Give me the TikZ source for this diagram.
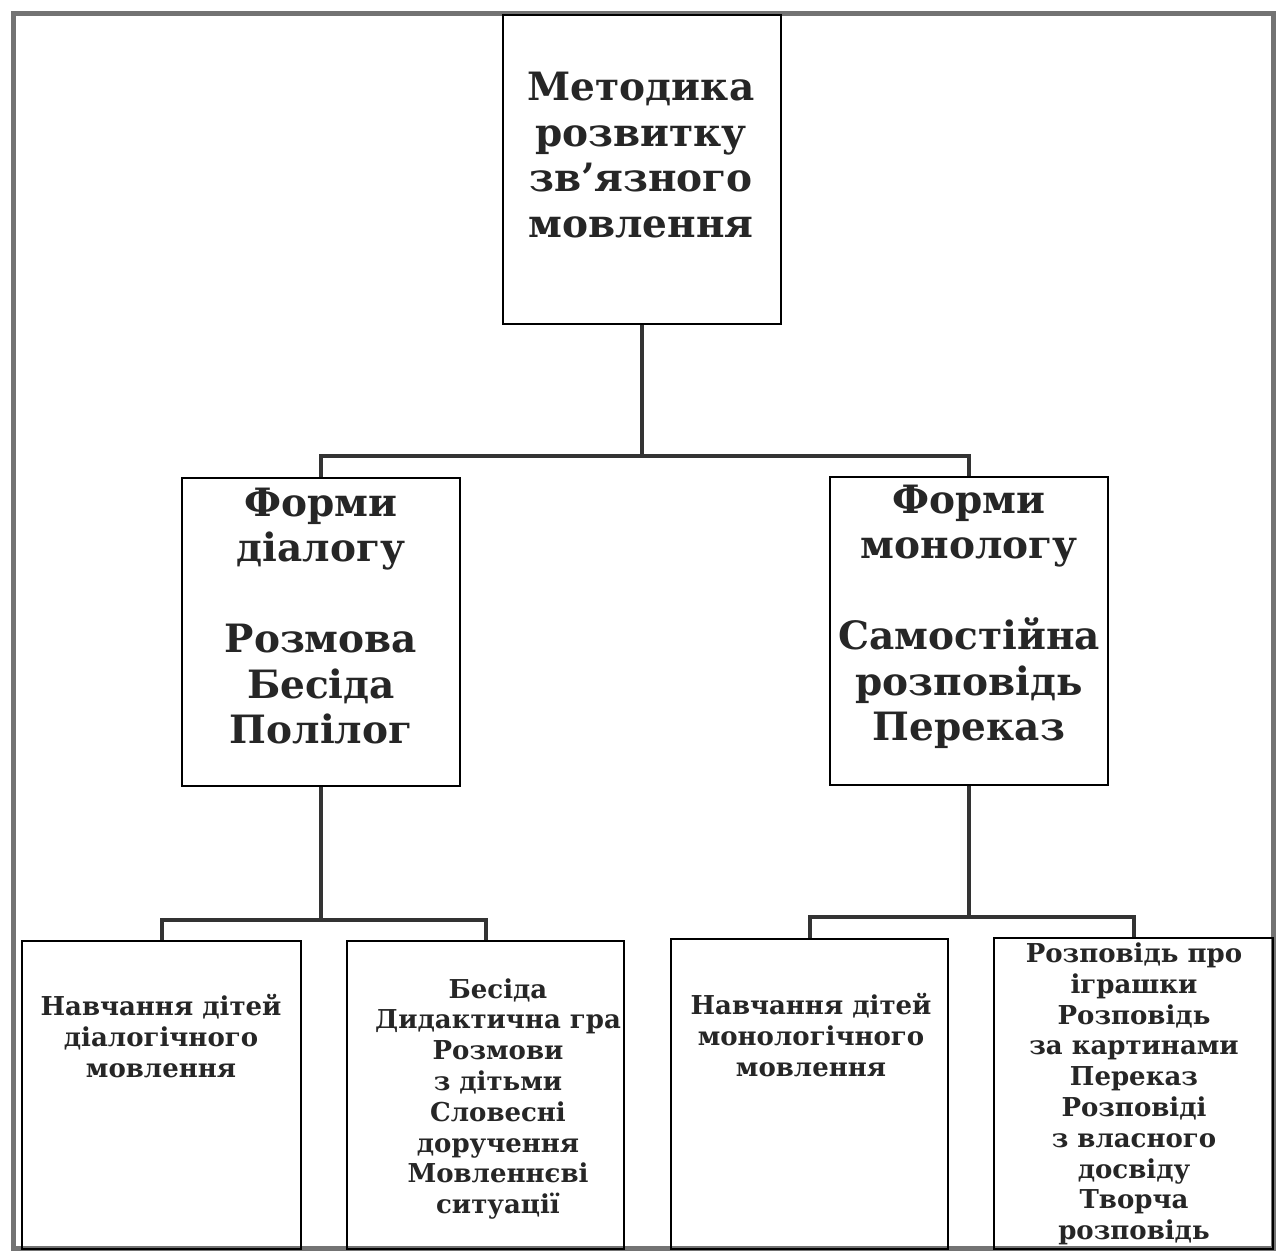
\documentclass[tikz,border=0pt]{standalone}
\usepackage{fontspec}
\setmainfont{DejaVu Serif}
\begin{document}
\begin{tikzpicture}[x=0.5pt,y=-0.5pt,
  frameline/.style={draw=black!55,line width=2.5pt},
  box/.style={draw=black,line width=1pt,rectangle,inner sep=0pt,fill=none},
  conn/.style={draw=black!80,line width=2pt,line join=miter},
  bigtxt/.style={align=center,inner sep=0pt,text=black!85,font=\bfseries\fontsize{19.5}{22.75}\selectfont},
  smalltxt/.style={align=center,inner sep=0pt,text=black!85,font=\bfseries\fontsize{13}{15.4}\selectfont}]
\useasboundingbox (0,0) rectangle (1282,1253);
\fill[white] (0,0) rectangle (1282,1253);
% outer frame
\draw[frameline] (13,13) rectangle (1273,1248);
% boxes
\node[box,minimum width=139pt,minimum height=154.5pt] (top) at (642,169.5) {};
\node[box,minimum width=139pt,minimum height=154pt] (lm) at (321,632) {};
\node[box,minimum width=139pt,minimum height=154pt] (rm) at (969,631) {};
\node[box,minimum width=139.5pt,minimum height=154pt] (b1) at (161.5,1095) {};
\node[box,minimum width=138.5pt,minimum height=154pt] (b2) at (485.5,1095) {};
\node[box,minimum width=138.5pt,minimum height=155pt] (b3) at (809.5,1094) {};
\node[box,minimum width=139.5pt,minimum height=155.5pt] (b4) at (1133.5,1093.5) {};
% connectors
\coordinate (bus1) at (0,456);
\coordinate (bus2) at (0,920);
\coordinate (bus3) at (0,917);
\draw[conn] (top.south) -- (top.south |- bus1);
\draw[conn] (lm.north) |- (rm.north |- bus1) -- (rm.north);
\draw[conn] (lm.south) -- (lm.south |- bus2);
\draw[conn] (b1.north) |- (b2.north |- bus2) -- (b2.north);
\draw[conn] (rm.south) -- (rm.south |- bus3);
\draw[conn] (b3.north) |- (b4.north |- bus3) -- (b4.north);
% texts
\node[bigtxt] (ttop) at (641,155) {Методика\\розвитку\\зв’язного\\мовлення};
\node[bigtxt] (tlm) at (321,616) {Форми\\діалогу\\[22.75pt]Розмова\\Бесіда\\Полілог};
\node[bigtxt] (trm) at (969,617) {Форми\\монологу\\[22.75pt]Самостійна\\розповідь\\Переказ};
\node[smalltxt] (tb1) at (161,1036) {Навчання дітей\\діалогічного\\мовлення};
\node[smalltxt] (tb2) at (498,1099) {Бесіда\\Дидактична гра\\Розмови\\з дітьми\\Словесні\\доручення\\Мовленнєві\\ситуації};
\node[smalltxt] (tb3) at (811,1035) {Навчання дітей\\монологічного\\мовлення};
\node[smalltxt] (tb4) at (1134,1094) {Розповідь про\\іграшки\\Розповідь\\за картинами\\Переказ\\Розповіді\\з власного\\досвіду\\Творча\\розповідь};
\end{tikzpicture}
\end{document}
